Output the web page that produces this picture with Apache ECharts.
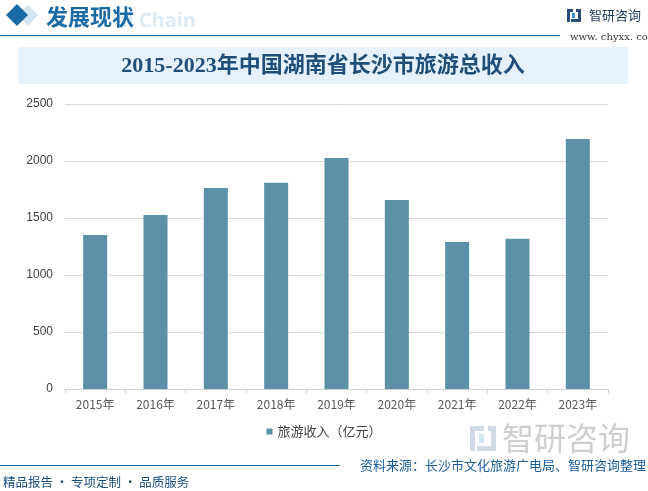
<!DOCTYPE html>
<html>
<head>
<meta charset="utf-8">
<script src="https://cdn.jsdelivr.net/npm/echarts@6/dist/echarts.min.js"></script>
<style>
html,body{margin:0;padding:0;background:#fff;}
#main{width:648px;height:491px;}
</style>
</head>
<body>
<div id="main"></div>
<script>
var categories = ['2015年','2016年','2017年','2018年','2019年','2020年','2021年','2022年','2023年'];
var seriesName = '旅游收入（亿元）';
var incomeValues = [1351, 1527, 1764, 1809, 2027, 1657, 1290, 1317, 2194];
var yTicks = [0, 500, 1000, 1500, 2000, 2500];
var titleText = '2015-2023年中国湖南省长沙市旅游总收入';
var sourceText = '资料来源：长沙市文化旅游广电局、智研咨询整理';
var sloganText = '精品报告 · 专项定制 · 品质服务';

var chart = echarts.init(document.getElementById('main'), null, {renderer:'canvas'});
var cjk = '"Noto Sans CJK SC", "Noto Sans", sans-serif';

var graphics = [
  {type:'text', style:{x:196, y:21, text:'al Chain', align:'right', verticalAlign:'middle', font:'bold 20px "Open Sans", Arial, sans-serif', fill:'#dcebf6'}},
  {type:'polygon', shape:{points:[[28,5],[38,15],[28,26],[18,15]]}, style:{fill:'#d3e5f2'}},
  {type:'polygon', shape:{points:[[17,4],[28,15],[17,26],[6,15]]}, style:{fill:'#1a6aa5'}},
  {type:'text', style:{x:46, y:17, text:'发展现状', verticalAlign:'middle', font:'bold 22px "Noto Sans CJK SC", sans-serif', fill:'#1a6aa5'}},
  {type:'line', shape:{x1:0, y1:35.5, x2:560, y2:35.5}, style:{stroke:'#1a6aa5', lineWidth:1.2}},
  {type:'rect', shape:{x:567, y:9, width:6, height:3}, style:{fill:'#2b4e7a'}},
  {type:'rect', shape:{x:567, y:9, width:3, height:13}, style:{fill:'#2b4e7a'}},
  {type:'rect', shape:{x:572, y:13, width:3, height:5}, style:{fill:'#3d8fd0'}},
  {type:'rect', shape:{x:576, y:9, width:5, height:3}, style:{fill:'#2b4e7a'}},
  {type:'rect', shape:{x:578, y:9, width:3, height:13}, style:{fill:'#2b4e7a'}},
  {type:'rect', shape:{x:571, y:19, width:10, height:3}, style:{fill:'#2b4e7a'}},
  {type:'text', style:{x:589, y:15, text:'智研咨询', verticalAlign:'middle', font:'13px "Noto Sans CJK SC", sans-serif', fill:'#1f3a5a'}},
  {type:'text', style:{x:570, y:37, text:'www. chyxx. com', verticalAlign:'middle', font:'10px "DejaVu Serif", serif', fill:'#333'}},
  {type:'rect', shape:{x:18, y:47, width:610, height:37}, style:{fill:'#e5f2fb'}},
  {type:'text', style:{x:323, y:66, text:titleText, align:'center', verticalAlign:'middle', font:'bold 22px "Liberation Serif", "Noto Sans CJK SC", serif', fill:'#1f4e79'}},
  {type:'rect', shape:{x:470, y:426, width:14, height:5}, style:{fill:'#d2dae5'}},
  {type:'rect', shape:{x:470, y:426, width:5, height:25}, style:{fill:'#d2dae5'}},
  {type:'rect', shape:{x:479, y:434, width:5, height:9}, style:{fill:'#d5e6f3'}},
  {type:'rect', shape:{x:488, y:426, width:8, height:5}, style:{fill:'#d2dae5'}},
  {type:'rect', shape:{x:491, y:426, width:5, height:25}, style:{fill:'#d2dae5'}},
  {type:'rect', shape:{x:477, y:446, width:19, height:5}, style:{fill:'#d2dae5'}},
  {type:'text', style:{x:502, y:438, text:'智研咨询', verticalAlign:'middle', font:'32px "Noto Sans CJK SC", sans-serif', fill:'#cfcfcf'}},
  {type:'line', shape:{x1:0, y1:465.5, x2:340, y2:465.5}, style:{stroke:'#1a6aa5', lineWidth:1.2}},
  {type:'text', style:{x:646, y:465, text:sourceText, align:'right', verticalAlign:'middle', font:'13px "Noto Sans CJK SC", sans-serif', fill:'#1a5e9a'}},
  {type:'text', style:{x:3, y:482, text:sloganText, verticalAlign:'middle', font:'12.5px "Noto Sans CJK SC", sans-serif', fill:'#1a4f80'}}
];

var option = {
  backgroundColor:'#ffffff',
  animation:false,
  grid:{left:65, right:40, top:104, bottom:102, containLabel:false},
  legend:{
    data:[seriesName], bottom:48, left:'center',
    icon:'rect', itemWidth:6, itemHeight:6, itemGap:6,
    textStyle:{fontFamily:cjk, fontSize:13, color:'#404040'}
  },
  xAxis:{
    type:'category', data:categories,
    axisLine:{lineStyle:{color:'#d0d0d0'}},
    axisTick:{show:true, length:5, lineStyle:{color:'#d0d0d0'}},
    axisLabel:{fontFamily:cjk, fontSize:12, color:'#595959', margin:9}
  },
  yAxis:{
    type:'value', min:yTicks[0], max:yTicks[yTicks.length-1], interval:500,
    axisLine:{show:false}, axisTick:{show:false},
    axisLabel:{fontFamily:'"Liberation Sans", Arial, sans-serif', fontSize:12, color:'#404040', margin:12,
      formatter:function(v){return String(v);}},
    splitLine:{lineStyle:{color:'#d9d9d9'}}
  },
  series:[{
    name:seriesName, type:'bar', data:incomeValues, barWidth:24,
    itemStyle:{color:'#5b90a7'}
  }],
  graphic:graphics
};
chart.setOption(option);
</script>
</body>
</html>
